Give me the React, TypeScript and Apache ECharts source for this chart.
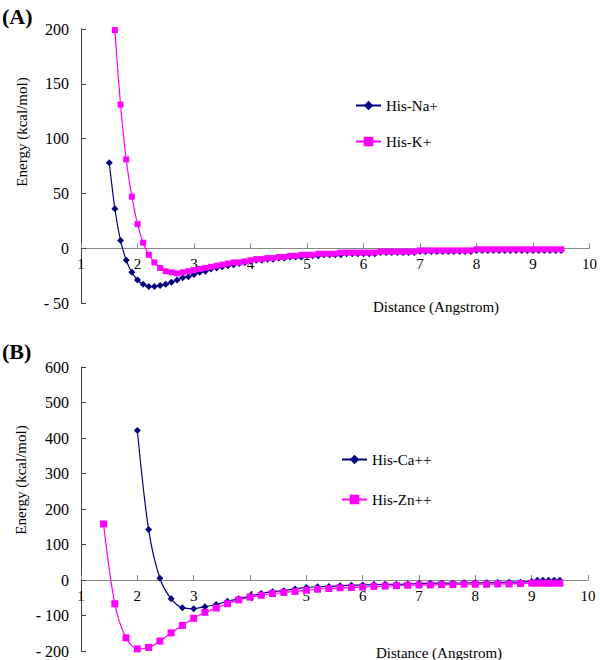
import React, { useEffect, useRef } from "react";
import * as echarts from "echarts";

const FONT = "'Liberation Serif', 'Times New Roman', serif";

// Panel A: distances (Angstrom), step 0.1
const distA = [
  1.5, 1.6, 1.7, 1.8, 1.9, 2.0, 2.1, 2.2, 2.3, 2.4, 2.5, 2.6, 2.7, 2.8, 2.9,
  3.0, 3.1, 3.2, 3.3, 3.4, 3.5, 3.6, 3.7, 3.8, 3.9, 4.0, 4.1, 4.2, 4.3, 4.4,
  4.5, 4.6, 4.7, 4.8, 4.9, 5.0, 5.1, 5.2, 5.3, 5.4, 5.5, 5.6, 5.7, 5.8, 5.9,
  6.0, 6.1, 6.2, 6.3, 6.4, 6.5, 6.6, 6.7, 6.8, 6.9, 7.0, 7.1, 7.2, 7.3, 7.4,
  7.5, 7.6, 7.7, 7.8, 7.9, 8.0, 8.1, 8.2, 8.3, 8.4, 8.5, 8.6, 8.7, 8.8, 8.9,
  9.0, 9.1, 9.2, 9.3, 9.4, 9.5,
];
// His-Na+ energies (kcal/mol), from 1.5
const naA = [
  78, 36, 7, -11, -22, -29, -33, -35, -35, -34, -33, -31, -29, -27, -26,
  -24, -22, -21, -19, -18, -17, -16, -15, -14, -13, -12, -11, -11, -10, -10,
  -9, -9, -8, -8, -8, -7, -7, -7, -6, -6, -6, -6, -5, -5, -5,
  -5, -5, -5, -4, -4, -4, -4, -4, -4, -4, -3, -3, -3, -3, -3,
  -3, -3, -3, -3, -3, -2, -2, -2, -2, -2, -2, -2, -2, -2, -2,
  -2, -2, -2, -2, -2, -2,
];
// His-K+ energies (kcal/mol), from 1.6
const kA = [
  199, 131, 81, 47, 22, 5, -6, -13, -18, -21, -22, -23, -22, -21,
  -20, -19, -18, -17, -16, -15, -14, -13, -13, -12, -11, -10, -10, -9, -9,
  -8, -8, -7, -7, -6, -6, -6, -5, -5, -5, -5, -4, -4, -4, -4,
  -4, -4, -4, -3, -3, -3, -3, -3, -3, -3, -2, -2, -2, -2, -2,
  -2, -2, -2, -2, -2, -1, -1, -1, -1, -1, -1, -1, -1, -1, -1,
  -1, -1, -1, -1, -1, -1,
];

// Panel B: distances
const distCa = [
  2.0, 2.2, 2.4, 2.6, 2.8, 3.0, 3.2, 3.4, 3.6, 3.8, 4.0, 4.2, 4.4, 4.6, 4.8,
  5.0, 5.2, 5.4, 5.6, 5.8, 6.0, 6.2, 6.4, 6.6, 6.8, 7.0, 7.2, 7.4, 7.6, 7.8,
  8.0, 8.2, 8.4, 8.6, 8.8, 9.0, 9.1, 9.2, 9.3, 9.4, 9.5,
];
const caB = [
  421, 142, 5, -53, -78, -81, -75, -69, -60, -53, -45, -38, -33, -30, -25,
  -21, -19, -18, -16, -15, -14, -13, -12, -12, -11, -10, -9, -9, -9, -8,
  -8, -8, -7, -6, -6, -4, -1, -1, -1, -1, -1,
];
const distZn = [
  1.4, 1.6, 1.8, 2.0, 2.2, 2.4, 2.6, 2.8, 3.0, 3.2, 3.4, 3.6, 3.8, 4.0, 4.2,
  4.4, 4.6, 4.8, 5.0, 5.2, 5.4, 5.6, 5.8, 6.0, 6.2, 6.4, 6.6, 6.8, 7.0, 7.2,
  7.4, 7.6, 7.8, 8.0, 8.2, 8.4, 8.6, 8.8, 9.0, 9.1, 9.2, 9.3, 9.4, 9.5,
];
const znB = [
  158, -67, -163, -194, -190, -172, -149, -128, -108, -91, -79, -67, -56, -48, -43,
  -38, -35, -32, -29, -26, -24, -22, -21, -20, -18, -17, -16, -15, -14, -14,
  -13, -13, -12, -12, -12, -11, -11, -10, -9, -9, -9, -9, -9, -9,
];

const NAVY = "#000080";
const MAGENTA = "#FF00FF";

const pairs = (xs: number[], ys: number[]) => ys.map((y, i) => [xs[i], y]);

const fmt = (v: number) => (v < 0 ? "- " + Math.abs(v) : String(v));

// grid geometry
const GA = { left: 81, top: 29, width: 511, height: 274, min: -50, max: 200 };
const GB = { left: 81, top: 367, width: 507, height: 284, min: -200, max: 600 };
const zeroOffset = (g: typeof GA) => -(g.height * (0 - g.min)) / (g.max - g.min);

export default function App() {
  const ref = useRef<HTMLDivElement>(null);
  useEffect(() => {
    if (!ref.current) return;
    const chart = echarts.init(ref.current, null, { renderer: "svg" });
    const xAxisBase = (gridIndex: number, offset: number) => ({
      gridIndex,
      type: "value",
      position: "bottom",
      offset,
      min: 1,
      max: 10,
      interval: 1,
      axisLine: { show: true, onZero: false, lineStyle: { color: "#888", width: 1 } },
      axisTick: { show: true, inside: true, length: 5, lineStyle: { color: "#888" } },
      axisLabel: { color: "#000", fontSize: 15, fontFamily: FONT, margin: 8 },
      splitLine: { show: false },
    });
    const yAxisBase = (gridIndex: number, min: number, max: number, interval: number) => ({
      gridIndex,
      type: "value",
      min,
      max,
      interval,
      axisLine: { show: true, lineStyle: { color: "#444", width: 1 } },
      axisTick: { show: true, inside: true, length: 5, lineStyle: { color: "#444" } },
      axisLabel: { color: "#000", fontSize: 16, fontFamily: FONT, margin: 12, formatter: fmt },
      splitLine: { show: false },
    });
    const lineSeries = (
      name: string,
      idx: number,
      data: number[][],
      color: string,
      symbol: string,
      size: number
    ) => ({
      name,
      type: "line",
      xAxisIndex: idx,
      yAxisIndex: idx,
      data,
      smooth: 0.3,
      symbol,
      symbolSize: size,
      showSymbol: true,
      lineStyle: { color, width: 1.2 },
      itemStyle: { color, borderWidth: 0 },
    });
    const legendBase = {
      orient: "vertical",
      itemWidth: 25,
      itemHeight: 12,
      textStyle: { fontSize: 15, fontFamily: FONT, color: "#000" },
    };
    chart.setOption({
      animation: false,
      textStyle: { fontFamily: FONT },
      grid: [
        { left: GA.left, top: GA.top, width: GA.width, height: GA.height },
        { left: GB.left, top: GB.top, width: GB.width, height: GB.height },
      ],
      xAxis: [xAxisBase(0, zeroOffset(GA)), xAxisBase(1, zeroOffset(GB))],
      yAxis: [yAxisBase(0, GA.min, GA.max, 50), yAxisBase(1, GB.min, GB.max, 100)],
      legend: [
        { ...legendBase, data: ["His-Na+", "His-K+"], left: 350, top: 93, itemGap: 21 },
        { ...legendBase, data: ["His-Ca++", "His-Zn++"], left: 336, top: 447, itemGap: 25 },
      ],
      series: [
        lineSeries("His-Na+", 0, pairs(distA, naA), NAVY, "diamond", 7),
        lineSeries("His-K+", 0, pairs(distA.slice(1), kA), MAGENTA, "rect", 6),
        lineSeries("His-Ca++", 1, pairs(distCa, caB), NAVY, "diamond", 7),
        lineSeries("His-Zn++", 1, pairs(distZn, znB), MAGENTA, "rect", 7),
      ],
      graphic: [
        { type: "text", left: 2, top: 5, style: { text: "(A)", font: `bold 22px ${FONT}`, fill: "#000" } },
        { type: "text", left: 2, top: 340, style: { text: "(B)", font: `bold 22px ${FONT}`, fill: "#000" } },
        {
          type: "text", x: 22, y: 132, rotation: Math.PI / 2,
          style: { text: "Energy (kcal/mol)", font: `15px ${FONT}`, fill: "#000", align: "center", verticalAlign: "middle" },
        },
        {
          type: "text", x: 21, y: 480, rotation: Math.PI / 2,
          style: { text: "Energy (kcal/mol)", font: `15px ${FONT}`, fill: "#000", align: "center", verticalAlign: "middle" },
        },
        {
          type: "text", x: 436, y: 307,
          style: { text: "Distance (Angstrom)", font: `15px ${FONT}`, fill: "#000", align: "center", verticalAlign: "middle" },
        },
        {
          type: "text", x: 439, y: 653,
          style: { text: "Distance (Angstrom)", font: `15px ${FONT}`, fill: "#000", align: "center", verticalAlign: "middle" },
        },
      ],
    });
    return () => chart.dispose();
  }, []);
  return (
    <div
      ref={ref}
      style={{ position: "absolute", left: 0, top: 0, width: 600, height: 660, background: "#fff" }}
    />
  );
}
